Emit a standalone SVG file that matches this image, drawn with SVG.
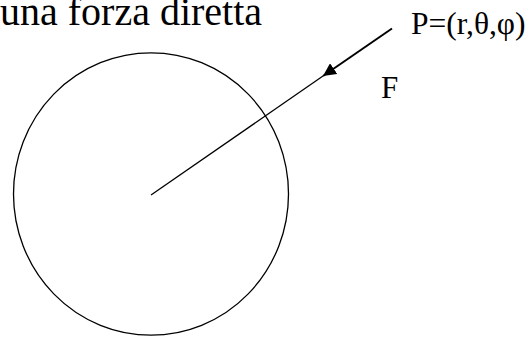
<svg xmlns="http://www.w3.org/2000/svg" width="529" height="337" viewBox="0 0 529 337">
<style>
.t{font-family:"Liberation Serif","Times New Roman",serif;fill:#000}
.thin{stroke:#000;stroke-width:1.3;fill:none}
.thick{stroke:#000;stroke-width:2;fill:none}
</style>
<defs>
<marker id="ah" viewBox="0 0 10 10" refX="10" refY="5" markerWidth="6.5" markerHeight="6.5" markerUnits="strokeWidth" orient="auto">
<path d="M0,0 L10,5 L0,10 z" fill="#000"/>
</marker>
</defs>
<rect width="529" height="337" fill="#fff"/>
<text class="t" x="0" y="25" font-size="40">una forza diretta</text>
<g id="sphere">
<ellipse cx="151" cy="194" rx="137.5" ry="141.2" class="thin"/>
</g>
<g id="connectors">
<line x1="151" y1="195" x2="323" y2="76" class="thin"/>
<line x1="392" y1="28.5" x2="323" y2="76" class="thick" marker-end="url(#ah)"/>
</g>
<g id="labels">
<text class="t" x="411" y="34" font-size="31.5">P=(r,θ,φ)</text>
<text class="t" x="381" y="98" font-size="31">F</text>
</g>
</svg>
